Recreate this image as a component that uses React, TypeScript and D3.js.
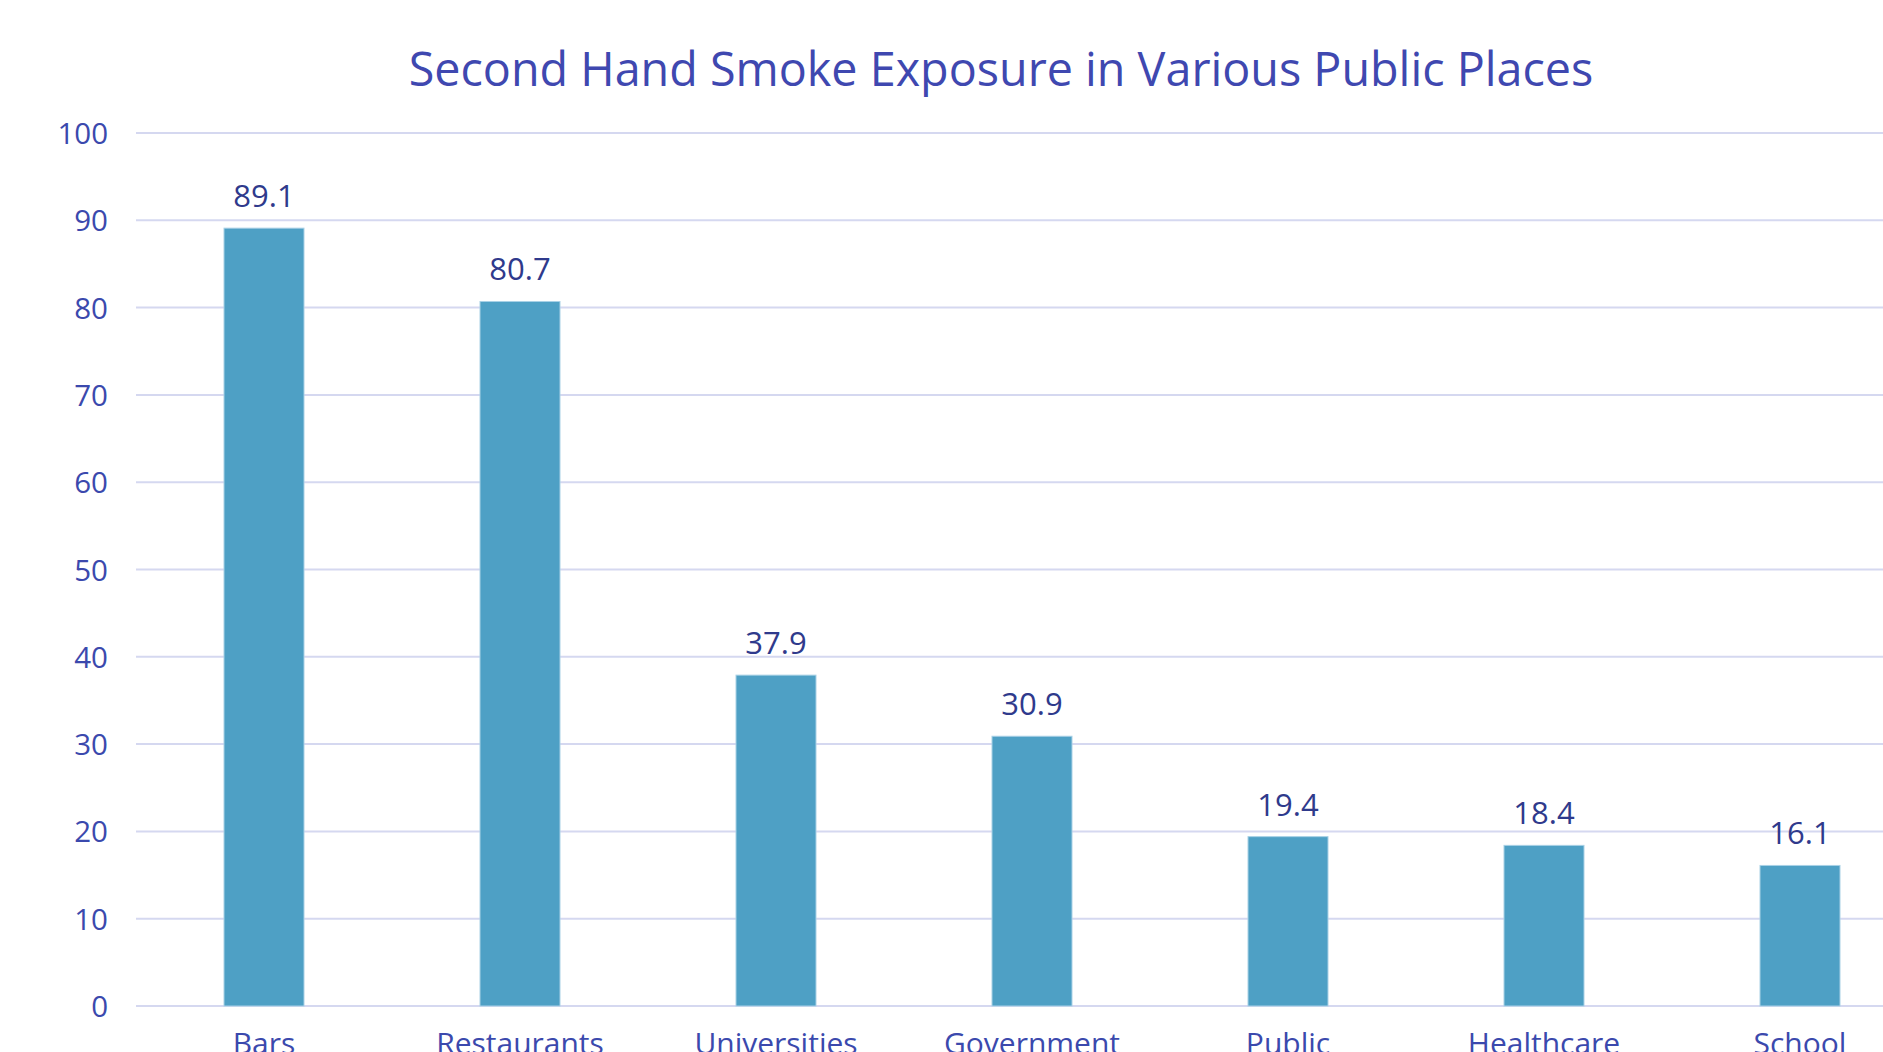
import React from "react";
import * as d3 from "d3";

const categories = [
  "Bars",
  "Restaurants",
  "Universities",
  "Government",
  "Public",
  "Healthcare",
  "School",
];
const values = [89.1, 80.7, 37.9, 30.9, 19.4, 18.4, 16.1];
const yTicks = [0, 10, 20, 30, 40, 50, 60, 70, 80, 90, 100];
const title = "Second Hand Smoke Exposure in Various Public Places";

const W = 1883;
const H = 1052;
const FONT = "'Open Sans', 'Noto Sans', sans-serif";

export default function App() {
  const x = d3
    .scaleBand<string>()
    .domain(categories)
    .range([136, 136 + 7 * 256])
    .paddingInner(0.6875)
    .paddingOuter(0.34375);
  const y = d3.scaleLinear().domain([0, 100]).range([1006, 133]);

  return (
    <svg
      width={W}
      height={H}
      style={{ position: "fixed", left: 0, top: 0, background: "#fff" }}
    >
      <rect x={0} y={0} width={W} height={H} fill="#fff" />
      <text
        x={1001}
        y={86}
        textAnchor="middle"
        fontFamily={FONT}
        fontSize={46.7}
        fill="#3f48b0"
      >
        {title}
      </text>
      {yTicks.map((t) => (
        <g key={t}>
          <line
            x1={136}
            x2={2010}
            y1={y(t)}
            y2={y(t)}
            stroke="#d5d8f0"
            strokeWidth={2}
          />
          <text
            x={108}
            y={y(t) + 11}
            textAnchor="end"
            fontFamily={FONT}
            fontSize={29.5}
            fill="#3b49ad"
          >
            {t}
          </text>
        </g>
      ))}
      {categories.map((c, i) => {
        const bx = x(c)!;
        const by = y(values[i]);
        return (
          <g key={c}>
            <rect
              x={bx}
              y={by}
              width={x.bandwidth()}
              height={y(0) - by}
              fill="#4ea0c5"
              stroke="#a9d1e6"
              strokeWidth={1}
            />
            <text
              x={bx + x.bandwidth() / 2}
              y={by - 21}
              textAnchor="middle"
              fontFamily={FONT}
              fontSize={31}
              fill="#2f3a8c"
            >
              {values[i].toFixed(1)}
            </text>
            <text
              x={bx + x.bandwidth() / 2}
              y={1054}
              textAnchor="middle"
              fontFamily={FONT}
              fontSize={30}
              fill="#3b49ad"
            >
              {c}
            </text>
          </g>
        );
      })}
    </svg>
  );
}
